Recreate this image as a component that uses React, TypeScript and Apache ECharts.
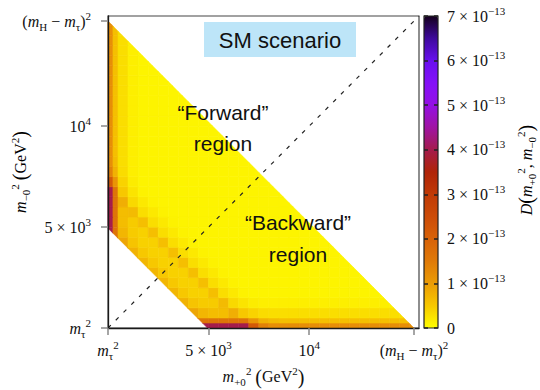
import React, { useEffect, useRef } from "react";
import * as echarts from "echarts";

// ---------- data ----------
const M_TAU_SQ = 3.16; // m_tau^2 (GeV^2)
const AXIS_MAX = 15460;
const SUM_MIN = 4950; // lower-left kinematic edge: m+0^2 + m-0^2
const SUM_MAX = 15210; // (mH - mτ)^2

const BIN_EDGES = [
  3.16, 250, 500, 1000, 1500, 2000, 2500, 3000, 3500, 4000, 4500, 5000, 5500,
  6000, 6500, 7000, 7500, 8000, 8500, 9000, 9500, 10000, 10500, 11000, 11500,
  12000, 12500, 13000, 13500, 14000, 14500, 15000, 15250,
];

// first x-bin index of each y-bin row (row 0 = bottom)
const ROW_FIRST_BIN = [10, 9, 8, 7, 6, 5, 4, 3, 2, 1, 0, 0, 0, 0, 0, 0, 0, 0, 0, 0, 0, 0, 0, 0, 0, 0, 0, 0, 0, 0, 0, 0];

// D(m+0^2, m-0^2) in units of 1e-13, row j = y-bin j (bottom to top)
const DENSITY_ROWS = [
  [4.0, 4.0, 4.0, 4.0, 4.0, 2.2, 1.4, 1.2, 1.2, 1.2, 1.2, 1.2, 1.2, 1.2, 1.2, 1.2, 1.2, 1.2, 1.2, 1.2, 1.2, 1.2],
  [1.6, 1.6, 1.6, 1.6, 1.6, 1.6, 1.1, 0.75, 0.65, 0.6, 0.6, 0.6, 0.6, 0.6, 0.6, 0.6, 0.6, 0.6, 0.6, 0.6, 0.6, 0.6],
  [0.9, 0.9, 0.7, 0.62, 0.62, 0.8, 0.5, 0.4, 0.32, 0.3, 0.3, 0.3, 0.3, 0.3, 0.3, 0.3, 0.3, 0.3, 0.3, 0.3, 0.3, 0.3, 0.3],
  [0.75, 0.75, 0.55, 0.47, 0.47, 0.65, 0.35, 0.25, 0.17, 0.15, 0.15, 0.15, 0.15, 0.15, 0.15, 0.15, 0.15, 0.15, 0.15, 0.15, 0.15, 0.15, 0.15],
  [0.7, 0.7, 0.5, 0.42, 0.42, 0.6, 0.3, 0.2, 0.12, 0.1, 0.1, 0.1, 0.1, 0.1, 0.1, 0.1, 0.1, 0.1, 0.1, 0.1, 0.1, 0.1, 0.1],
  [0.7, 0.7, 0.5, 0.42, 0.42, 0.6, 0.3, 0.2, 0.12, 0.1, 0.1, 0.1, 0.1, 0.1, 0.1, 0.1, 0.1, 0.1, 0.1, 0.1, 0.1, 0.1, 0.1],
  [0.7, 0.7, 0.5, 0.42, 0.42, 0.6, 0.3, 0.2, 0.12, 0.1, 0.1, 0.1, 0.1, 0.1, 0.1, 0.1, 0.1, 0.1, 0.1, 0.1, 0.1, 0.1, 0.1],
  [0.75, 0.7, 0.5, 0.42, 0.42, 0.6, 0.3, 0.2, 0.12, 0.1, 0.1, 0.1, 0.1, 0.1, 0.1, 0.1, 0.1, 0.1, 0.1, 0.1, 0.1, 0.1, 0.1],
  [0.9, 0.75, 0.5, 0.42, 0.42, 0.6, 0.3, 0.2, 0.12, 0.1, 0.1, 0.1, 0.1, 0.1, 0.1, 0.1, 0.1, 0.1, 0.1, 0.1, 0.1, 0.1, 0.1],
  [1.6, 0.9, 0.55, 0.42, 0.42, 0.6, 0.3, 0.2, 0.12, 0.1, 0.1, 0.1, 0.1, 0.1, 0.1, 0.1, 0.1, 0.1, 0.1, 0.1, 0.1, 0.1, 0.1],
  [4.0, 1.6, 0.7, 0.47, 0.42, 0.6, 0.3, 0.2, 0.12, 0.1, 0.1, 0.1, 0.1, 0.1, 0.1, 0.1, 0.1, 0.1, 0.1, 0.1, 0.1, 0.1, 0.1],
  [4.0, 1.6, 0.62, 0.47, 0.6, 0.3, 0.2, 0.12, 0.1, 0.1, 0.1, 0.1, 0.1, 0.1, 0.1, 0.1, 0.1, 0.1, 0.1, 0.1, 0.1, 0.1],
  [4.0, 1.6, 0.62, 0.65, 0.3, 0.2, 0.12, 0.1, 0.1, 0.1, 0.1, 0.1, 0.1, 0.1, 0.1, 0.1, 0.1, 0.1, 0.1, 0.1, 0.1],
  [4.0, 1.6, 0.8, 0.35, 0.2, 0.12, 0.1, 0.1, 0.1, 0.1, 0.1, 0.1, 0.1, 0.1, 0.1, 0.1, 0.1, 0.1, 0.1, 0.1],
  [4.0, 1.6, 0.5, 0.25, 0.12, 0.1, 0.1, 0.1, 0.1, 0.1, 0.1, 0.1, 0.1, 0.1, 0.1, 0.1, 0.1, 0.1, 0.1],
  [2.2, 1.1, 0.4, 0.17, 0.1, 0.1, 0.1, 0.1, 0.1, 0.1, 0.1, 0.1, 0.1, 0.1, 0.1, 0.1, 0.1, 0.1],
  [1.4, 0.75, 0.32, 0.15, 0.1, 0.1, 0.1, 0.1, 0.1, 0.1, 0.1, 0.1, 0.1, 0.1, 0.1, 0.1, 0.1],
  [1.2, 0.65, 0.3, 0.15, 0.1, 0.1, 0.1, 0.1, 0.1, 0.1, 0.1, 0.1, 0.1, 0.1, 0.1, 0.1],
  [1.2, 0.6, 0.3, 0.15, 0.1, 0.1, 0.1, 0.1, 0.1, 0.1, 0.1, 0.1, 0.1, 0.1, 0.1],
  [1.2, 0.6, 0.3, 0.15, 0.1, 0.1, 0.1, 0.1, 0.1, 0.1, 0.1, 0.1, 0.1, 0.1],
  [1.2, 0.6, 0.3, 0.15, 0.1, 0.1, 0.1, 0.1, 0.1, 0.1, 0.1, 0.1, 0.1],
  [1.2, 0.6, 0.3, 0.15, 0.1, 0.1, 0.1, 0.1, 0.1, 0.1, 0.1, 0.1],
  [1.2, 0.6, 0.3, 0.15, 0.1, 0.1, 0.1, 0.1, 0.1, 0.1, 0.1],
  [1.2, 0.6, 0.3, 0.15, 0.1, 0.1, 0.1, 0.1, 0.1, 0.1],
  [1.2, 0.6, 0.3, 0.15, 0.1, 0.1, 0.1, 0.1, 0.1],
  [1.2, 0.6, 0.3, 0.15, 0.1, 0.1, 0.1, 0.1],
  [1.2, 0.6, 0.3, 0.15, 0.1, 0.1, 0.1],
  [1.2, 0.6, 0.3, 0.15, 0.1, 0.1],
  [1.2, 0.6, 0.3, 0.15, 0.1],
  [1.2, 0.6, 0.3, 0.15],
  [1.2, 0.6, 0.3],
  [1.2],
];

const X_TICKS = [3.16, 5000, 10000, 15210];
const X_TICK_LABELS = [
  "{i|m}{sub|τ}{sup|2}",
  "{n|5 × 10}{sup|3}",
  "{n|10}{sup|4}",
  "{n|(}{i|m}{sub|H}{n| − }{i|m}{sub|τ}{n|)}{sup|2}",
];
const Y_TICKS = [3.16, 5000, 10000, 15210];
const Y_TICK_LABELS = X_TICK_LABELS;

const CBAR_MIN = 0;
const CBAR_MAX = 7;
const CBAR_LABELS = [
  "{n|0}",
  "{n|1 × 10}{sup|−13}",
  "{n|2 × 10}{sup|−13}",
  "{n|3 × 10}{sup|−13}",
  "{n|4 × 10}{sup|−13}",
  "{n|5 × 10}{sup|−13}",
  "{n|6 × 10}{sup|−13}",
  "{n|7 × 10}{sup|−13}",
];
const CBAR_COLORS = [
  "#ffff00", "#f7c800", "#eb9c06", "#e07a08", "#d86208", "#cc4c08", "#c03a06",
  "#b02408", "#a41c4c", "#a014a4", "#9410e4", "#8410f8", "#6810ee", "#3e0a9c", "#14001c",
];

// ---------- helpers ----------
const SERIF = "'Liberation Serif', 'DejaVu Serif', serif";
const SANS = "'Liberation Sans', Arial, sans-serif";
const INK = "#111";
const rich = {
  n: { fontFamily: SERIF, fontSize: 16, lineHeight: 22, verticalAlign: "middle", color: INK },
  i: { fontFamily: SERIF, fontSize: 16, lineHeight: 22, fontStyle: "italic", verticalAlign: "middle", color: INK },
  p: { fontFamily: SERIF, fontSize: 20, lineHeight: 22, verticalAlign: "middle", color: INK },
  sup: { fontFamily: SERIF, fontSize: 11, lineHeight: 10, verticalAlign: "top", color: INK },
  sub: { fontFamily: SERIF, fontSize: 11, lineHeight: 9, verticalAlign: "bottom", color: INK },
};

function clipHalfPlane(poly: number[][], f: (p: number[]) => number) {
  const out: number[][] = [];
  for (let k = 0; k < poly.length; k++) {
    const a = poly[k];
    const b = poly[(k + 1) % poly.length];
    const fa = f(a);
    const fb = f(b);
    if (fa >= 0) out.push(a);
    if (fa >= 0 !== fb >= 0) {
      const t = fa / (fa - fb);
      out.push([a[0] + t * (b[0] - a[0]), a[1] + t * (b[1] - a[1])]);
    }
  }
  return out;
}

const cells: number[][] = [];
DENSITY_ROWS.forEach((row, j) => {
  row.forEach((v, k) => {
    const i = ROW_FIRST_BIN[j] + k;
    cells.push([
      (BIN_EDGES[i] + BIN_EDGES[i + 1]) / 2,
      (BIN_EDGES[j] + BIN_EDGES[j + 1]) / 2,
      v,
      i,
      j,
    ]);
  });
});

const App = () => {
  const ref = useRef<HTMLDivElement>(null);
  useEffect(() => {
    document.body.style.margin = "0";
    const chart = echarts.init(ref.current!, null, { renderer: "svg" });
    const option: any = {
      animation: false,
      grid: [
        { left: 108, top: 16, width: 311, height: 312, show: true, borderColor: "#444", borderWidth: 1.2, backgroundColor: "transparent", outerBoundsMode: "none" },
        { left: 424, top: 16, width: 14, height: 312, show: true, borderColor: "#222", borderWidth: 1.2, backgroundColor: "transparent", z: 10, outerBoundsMode: "none" },
      ],
      visualMap: {
        type: "continuous",
        seriesIndex: 0,
        dimension: 2,
        min: CBAR_MIN,
        max: CBAR_MAX,
        calculable: false,
        hoverLink: false,
        left: 424,
        top: 16,
        itemWidth: 14,
        itemHeight: 312,
        padding: 0,
        inRange: { color: CBAR_COLORS },
      },
      xAxis: [
        {
          gridIndex: 0,
          type: "value",
          min: M_TAU_SQ,
          max: AXIS_MAX,
          axisLine: { show: true, onZero: false, lineStyle: { color: "#1a1a1a", width: 1.3 } },
          axisTick: { show: true, customValues: X_TICKS, length: 7, lineStyle: { color: "#888", width: 1.5 } },
          axisLabel: {
            customValues: X_TICKS,
            formatter: (v: number) => X_TICK_LABELS[X_TICKS.indexOf(v)] ?? "",
            rich,
            margin: 11,
          },
          splitLine: { show: false },
          name: "{i|m}{sub|+0}{sup|2}{n| }{p|(}{n|GeV}{sup|2}{p|)}",
          nameLocation: "middle",
          nameGap: 31,
          nameTextStyle: { rich },
          z: 5,
        },
        { gridIndex: 1, type: "value", min: 0, max: 1, show: false },
      ],
      yAxis: [
        {
          gridIndex: 0,
          type: "value",
          min: M_TAU_SQ,
          max: AXIS_MAX,
          axisLine: { show: true, onZero: false, lineStyle: { color: "#1a1a1a", width: 1.3 } },
          axisTick: { show: true, customValues: Y_TICKS, length: 7, lineStyle: { color: "#888", width: 1.5 } },
          axisLabel: {
            customValues: Y_TICKS,
            formatter: (v: number) => Y_TICK_LABELS[Y_TICKS.indexOf(v)] ?? "",
            rich,
            margin: 17,
          },
          splitLine: { show: false },
          z: 5,
        },
        {
          gridIndex: 1,
          type: "value",
          position: "left",
          min: CBAR_MIN,
          max: CBAR_MAX,
          interval: 1,
          axisLine: { show: false },
          axisTick: { show: true, inside: true, length: 4, lineStyle: { color: "#222", width: 1.5 } },
          axisLabel: { show: false },
          splitLine: { show: false },
          z: 12,
        },
        {
          gridIndex: 1,
          type: "value",
          position: "right",
          min: CBAR_MIN,
          max: CBAR_MAX,
          interval: 1,
          axisLine: { show: false },
          axisTick: { show: true, inside: true, length: 4, lineStyle: { color: "#222", width: 1.5 } },
          axisLabel: {
            show: true,
            margin: 9,
            formatter: (v: number) => CBAR_LABELS[Math.round(v)] ?? "",
            rich,
          },
          splitLine: { show: false },
          z: 12,
        },
      ],
      series: [
        {
          type: "custom",
          xAxisIndex: 0,
          yAxisIndex: 0,
          data: cells,
          encode: { x: 0, y: 1 },
          silent: true,
          renderItem: (params: any, api: any) => {
            const i = api.value(3);
            const j = api.value(4);
            let poly = [
              [BIN_EDGES[i], BIN_EDGES[j]],
              [BIN_EDGES[i + 1], BIN_EDGES[j]],
              [BIN_EDGES[i + 1], BIN_EDGES[j + 1]],
              [BIN_EDGES[i], BIN_EDGES[j + 1]],
            ];
            poly = clipHalfPlane(poly, (p) => p[0] + p[1] - SUM_MIN);
            poly = clipHalfPlane(poly, (p) => SUM_MAX - p[0] - p[1]);
            if (poly.length < 3) return null;
            const color = api.visual("color");
            return {
              type: "polygon",
              shape: { points: poly.map((p) => api.coord(p)) },
              style: { fill: color, stroke: color, lineWidth: 0.6 },
            };
          },
          z: 2,
        },
        {
          type: "line",
          xAxisIndex: 0,
          yAxisIndex: 0,
          data: [
            [M_TAU_SQ, M_TAU_SQ],
            [AXIS_MAX, AXIS_MAX],
          ],
          symbol: "none",
          silent: true,
          lineStyle: { color: "#222", width: 1.2, type: [4, 7] },
          z: 3,
        },
      ],
      graphic: [
        { type: "rect", z: 100, shape: { x: 204, y: 22, width: 152, height: 35 }, style: { fill: "#bde5f8" } },
        {
          type: "text", z: 101, x: 280, y: 40,
          style: { text: "SM scenario", fontFamily: SANS, fontSize: 22, fill: INK, align: "center", verticalAlign: "middle" },
        },
        {
          type: "text", z: 101, x: 223, y: 128,
          style: { text: "“Forward”\nregion", fontFamily: SANS, fontSize: 21, lineHeight: 31, fill: INK, align: "center", verticalAlign: "middle" },
        },
        {
          type: "text", z: 101, x: 298, y: 238,
          style: { text: "“Backward”\nregion", fontFamily: SANS, fontSize: 21, lineHeight: 32, fill: INK, align: "center", verticalAlign: "middle" },
        },
        {
          type: "text", z: 101, x: 20, y: 172, rotation: Math.PI / 2,
          style: {
            text: "{i|m}{sub|−0}{sup|2}{n| }{p|(}{n|GeV}{sup|2}{p|)}",
            rich,
            align: "center",
            verticalAlign: "middle",
          },
        },
        {
          type: "text", z: 101, x: 526, y: 170, rotation: Math.PI / 2,
          style: {
            text: "{i|D}{p|(}{i|m}{sub|+0}{sup|2}{n|, }{i|m}{sub|−0}{sup|2}{p|)}",
            rich,
            align: "center",
            verticalAlign: "middle",
          },
        },
      ],
    };
    chart.setOption(option);
    return () => chart.dispose();
  }, []);
  return <div ref={ref} style={{ width: 540, height: 390 }} />;
};

export default App;
